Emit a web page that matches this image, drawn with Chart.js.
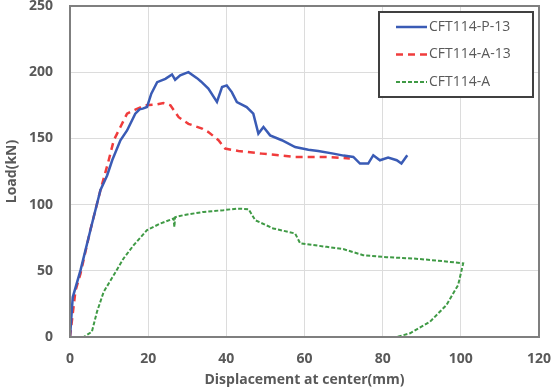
<!DOCTYPE html>
<html>
<head>
<meta charset="utf-8">
<script src="https://cdn.jsdelivr.net/npm/chart.js@4"></script>
<style>
  html, body { margin: 0; padding: 0; background: #fff; }
  #wrap { width: 555px; height: 388px; }
</style>
</head>
<body>
<div id="wrap"><canvas id="loadChart"></canvas></div>
<script>
// CFT114-P-13
const pX = [0, 0.7, 2.7, 5.5, 7.8, 9.5, 10.8, 12.9, 14.6, 16.7, 17.8, 18.6, 19.7, 20.8, 22.3, 24.4, 26.1, 26.9, 28.2, 30.3, 32.5, 33.5, 35.4, 37.6, 38.9, 40.1, 41.4, 42.7, 45.2, 46.9, 48.2, 49.5, 51.2, 54.2, 57.6, 61, 63.5, 67.4, 70, 72.5, 74.2, 76.3, 77.6, 79.3, 81.4, 83.6, 84.8, 86.3]
const pY = [0, 30, 50.5, 84, 111, 122, 133.5, 148.6, 156, 168.7, 172, 172.5, 173.7, 183.8, 192.5, 195, 198.3, 194.3, 197.6, 200, 195.5, 193, 187.6, 177.5, 188.8, 190, 185, 177.5, 173.7, 168.7, 153.6, 158.6, 152.3, 148.6, 143.5, 141.5, 140.5, 138.5, 137, 136, 131, 131, 137.3, 133.5, 135.5, 133.5, 131, 137.3]

// CFT114-A-13
const a13X = [0, 1.4, 2.7, 5.2, 7.8, 9.9, 11.2, 12.9, 14.6, 16.7, 19.3, 21.8, 23.9, 25.7, 27.8, 30.3, 33.8, 35.4, 38, 39.7, 43.1, 49.1, 57.6, 66.1, 71.6]
const a13Y = [0, 35, 48, 80.7, 111, 133.5, 148.6, 158.6, 168.7, 171.7, 175, 175.5, 176.7, 175, 166, 161, 157.4, 154.8, 148.6, 142.3, 140.5, 138.5, 136, 136, 134.8]

// CFT114-A
const aX = [0, 3.5, 5.6, 6.9, 8.6, 11.2, 13.7, 16.3, 19.7, 23.1, 26.5, 26.7, 26.9, 29, 34.2, 39.3, 42.7, 45.7, 47.4, 52, 57.6, 58.9, 65.7, 69.9, 75, 81, 87.8, 95.5, 100.6, 99.3, 96.3, 92.1, 87, 83.6, 80.2]
const aY = [0, 0, 4, 19, 34, 46.8, 59.3, 69.4, 80.7, 85.7, 89.5, 83, 90.5, 92, 94.5, 95.8, 97, 96.5, 88.2, 82, 78.2, 70.7, 68.1, 66.4, 61.8, 60.3, 59.3, 57.3, 55.6, 39.2, 24.1, 11.5, 2.8, 0, 0]

const xTicks = [0, 20, 40, 60, 80, 100, 120]
const yTicks = [0, 50, 100, 150, 200, 250]

const toPoints = (xs, ys) => xs.map((x, i) => ({ x: x, y: ys[i] }))

const tickFont = { family: "'Open Sans'", size: 14, weight: 'bold' }
const titleFont = { family: "'Open Sans'", size: 14, weight: 'bold' }
const textColor = '#595959'

// legend drawn as a boxed panel inside the plot, like the spreadsheet original
const boxLegend = {
  id: 'boxLegend',
  afterDraw(chart) {
    const ctx = chart.ctx
    const ca = chart.chartArea
    ctx.save()
    // frame around the plot
    ctx.strokeStyle = '#7f7f7f'
    ctx.lineWidth = 2
    ctx.strokeRect(ca.left, ca.top, ca.right - ca.left, ca.bottom - ca.top)

    const bx = 379, by = 12, bw = 154, bh = 85
    ctx.fillStyle = '#fff'
    ctx.fillRect(bx, by, bw, bh)
    ctx.strokeStyle = '#404040'
    ctx.lineWidth = 2
    ctx.strokeRect(bx, by, bw, bh)

    ctx.font = "14px 'Open Sans'"
    ctx.textBaseline = 'middle'
    chart.data.datasets.forEach((ds, i) => {
      const y = by + 15 + i * 27.5
      ctx.strokeStyle = ds.borderColor
      ctx.lineWidth = ds.borderWidth
      ctx.setLineDash(ds.borderDash || [])
      ctx.beginPath()
      ctx.moveTo(bx + 17, y)
      ctx.lineTo(bx + 48, y)
      ctx.stroke()
      ctx.setLineDash([])
      ctx.fillStyle = textColor
      ctx.fillText(ds.label, bx + 50, y)
    })
    ctx.restore()
  }
}

new Chart(document.getElementById('loadChart'), {
  type: 'scatter',
  data: {
    datasets: [
      {
        label: 'CFT114-P-13',
        data: toPoints(pX, pY),
        showLine: true,
        borderColor: '#3a5bb5',
        borderWidth: 2.5,
        pointRadius: 0,
        tension: 0
      },
      {
        label: 'CFT114-A-13',
        data: toPoints(a13X, a13Y),
        showLine: true,
        borderColor: '#f03c3c',
        borderWidth: 2.5,
        borderDash: [7, 5],
        pointRadius: 0,
        tension: 0
      },
      {
        label: 'CFT114-A',
        data: toPoints(aX, aY),
        showLine: true,
        borderColor: '#3f9a45',
        borderWidth: 2,
        borderDash: [4, 2],
        pointRadius: 0,
        tension: 0
      }
    ]
  },
  options: {
    responsive: true,
    maintainAspectRatio: false,
    animation: false,
    layout: { padding: { top: 6, right: 16, bottom: 0, left: 0 } },
    plugins: {
      legend: { display: false },
      tooltip: { enabled: false }
    },
    scales: {
      x: {
        type: 'linear',
        min: 0,
        max: 120,
        afterBuildTicks: (scale) => { scale.ticks = xTicks.map(v => ({ value: v })) },
        afterFit: (scale) => {
          scale.height = 51
          scale.paddingLeft = 0
          scale.paddingRight = 0
        },
        grid: { color: '#dcdcdc', lineWidth: 1, drawTicks: false },
        border: { display: false },
        ticks: { color: textColor, font: tickFont, padding: 14, maxRotation: 0 },
        title: { display: true, text: 'Displacement at center(mm)', color: textColor, font: titleFont, padding: { top: 0, bottom: 0 } }
      },
      y: {
        type: 'linear',
        min: 0,
        max: 250,
        afterBuildTicks: (scale) => { scale.ticks = yTicks.map(v => ({ value: v })) },
        afterFit: (scale) => {
          scale.width = 70
          scale.paddingTop = 0
          scale.paddingBottom = 0
        },
        grid: { color: '#dcdcdc', lineWidth: 1, drawTicks: false },
        border: { display: false },
        ticks: { color: textColor, font: tickFont, padding: 17 },
        title: { display: true, text: 'Load(kN)', color: textColor, font: titleFont, padding: { top: 4, bottom: 0 } }
      }
    }
  },
  plugins: [boxLegend]
})
</script>
</body>
</html>
